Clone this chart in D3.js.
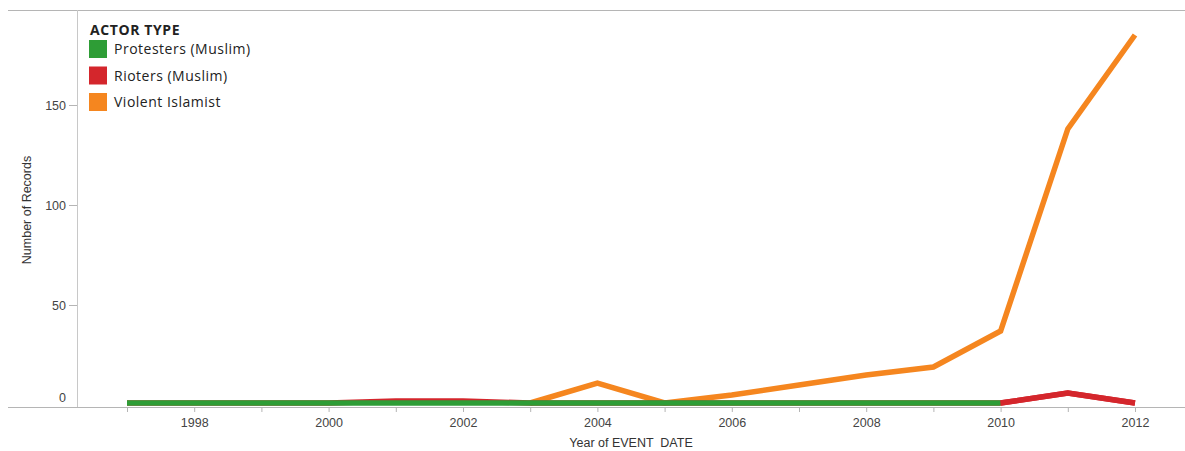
<!DOCTYPE html>
<html><head><meta charset="utf-8">
<script src="https://cdn.jsdelivr.net/npm/d3@7"></script>
<style>body{margin:0;background:#fff}svg{display:block}</style>
</head><body>
<svg id="c" width="1185" height="451"></svg>
<script>
const years = [1997,1998,1999,2000,2001,2002,2003,2004,2005,2006,2007,2008,2009,2010,2011,2012];
const protesters = [1,1,1,1,1,1,1,1,1,1,1,1,1,1,null,null];
const rioters    = [1,1,1,1,2,2,1,1,1,1,1,1,1,1,6,1];
const violent    = [null,null,null,null,null,null,1,11,1,5,10,15,19,37,138,185];
const seriesNames = ["Protesters (Muslim)","Rioters (Muslim)","Violent Islamist"];
const seriesColors = ["#2e9d36","#d4262c","#f5861f"];
const yTicks = [0,50,100,150];
const xTickLabels = [1998,2000,2002,2004,2006,2008,2010,2012];

const svg = d3.select("#c");
const x = d3.scaleLinear().domain([1997,2012]).range([127,1135]);
const y = d3.scaleLinear().domain([0,150]).range([405,105]);
const axisFont = "'Liberation Sans', Arial, sans-serif";

// frame lines
svg.append("line").attr("x1",8).attr("x2",1185).attr("y1",10.5).attr("y2",10.5).attr("stroke","#b5b5b5");
svg.append("line").attr("x1",8).attr("x2",1185).attr("y1",407.5).attr("y2",407.5).attr("stroke","#b5b5b5");
svg.append("line").attr("x1",77.5).attr("x2",77.5).attr("y1",10).attr("y2",407).attr("stroke","#c8c8c8");

// x axis
const xa = svg.append("g").attr("transform","translate(0,407)")
  .call(d3.axisBottom(x).tickValues(years).tickSize(5).tickPadding(6)
    .tickFormat(d => xTickLabels.includes(d) ? String(d) : ""));
xa.select(".domain").remove();
xa.selectAll(".tick line").attr("stroke","#b5b5b5");
xa.selectAll(".tick text").attr("font-family",axisFont).attr("font-size",12.5).attr("fill","#444");

// y axis
const ya = svg.append("g").attr("transform","translate(77,0)")
  .call(d3.axisLeft(y).tickValues(yTicks).tickSize(8).tickPadding(3));
ya.select(".domain").remove();
ya.selectAll(".tick line").attr("stroke","#b5b5b5");
ya.selectAll(".tick").filter(d => d === 0).select("line").remove();
ya.selectAll(".tick").filter(d => d === 0).select("text").attr("dy","-0.3em");
ya.selectAll(".tick text").attr("font-family",axisFont).attr("font-size",12.5).attr("fill","#444");

// axis titles
svg.append("text").attr("x",631).attr("y",447).attr("text-anchor","middle")
  .attr("font-family",axisFont).attr("font-size",12.5).attr("fill","#333")
  .style("white-space","pre").text("Year of EVENT  DATE");
svg.append("text").attr("transform","translate(31,210) rotate(-90)").attr("text-anchor","middle")
  .attr("font-family",axisFont).attr("font-size",12.5).attr("fill","#333")
  .text("Number of Records");

// lines (draw order: violent, rioters, protesters on top)
const line = d3.line().defined(d => d.v != null).x(d => x(d.yr)).y(d => y(d.v));
const data = [protesters, rioters, violent].map((arr,i) => ({name:seriesNames[i], color:seriesColors[i], pts: years.map((yr,j)=>({yr, v:arr[j]}))}));
[2,1,0].forEach(i => {
  svg.append("path").datum(data[i].pts).attr("d",line).attr("fill","none")
    .attr("stroke",data[i].color).attr("stroke-width",5.5).attr("stroke-linejoin","miter");
});
// red over green after 2010 (green ends at 2010)
svg.append("path").datum(data[1].pts.filter(d => d.yr >= 2010)).attr("d",line).attr("fill","none")
  .attr("stroke",data[1].color).attr("stroke-width",5.5);

// legend
const lf = "'Open Sans', 'Segoe UI', sans-serif";
svg.append("text").attr("x",90).attr("y",35).attr("font-family",lf).attr("font-size",14)
  .attr("font-weight","bold").attr("letter-spacing",0.6).attr("fill","#222").text("ACTOR TYPE");
const lg = svg.append("g").selectAll("g").data(data).join("g")
  .attr("transform",(d,i)=>`translate(89,${40 + i*26.5})`);
lg.append("rect").attr("width",18).attr("height",18).attr("fill",d=>d.color);
lg.append("text").attr("x",25).attr("y",14).attr("font-family",lf).attr("font-size",14)
  .attr("letter-spacing",0.5).attr("fill","#222").text(d=>d.name);
</script>
</body></html>
